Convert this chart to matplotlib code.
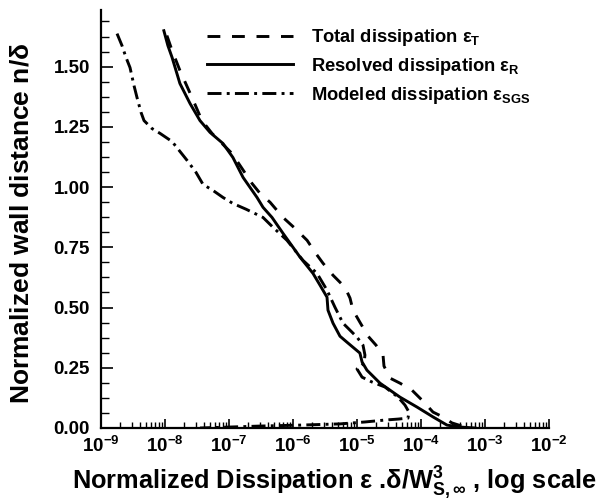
import math
import matplotlib
matplotlib.use("Agg")
import matplotlib.pyplot as plt
from matplotlib.ticker import FixedLocator, LogLocator, NullFormatter, FuncFormatter

plt.rcParams['font.family'] = ['Liberation Sans', 'DejaVu Sans']
plt.rcParams['font.weight'] = 'bold'
plt.rcParams['mathtext.fontset'] = 'custom'
plt.rcParams['mathtext.rm'] = 'Liberation Sans:bold'
plt.rcParams['mathtext.bf'] = 'Liberation Sans:bold'
plt.rcParams['mathtext.it'] = 'Liberation Sans'
plt.rcParams['mathtext.sf'] = 'Liberation Sans:bold'

# ---- data ----
resolved_eps = [9.6e-9, 1.11e-8, 1.29e-8, 1.71e-8, 2.46e-8, 3.52e-8, 5.05e-8, 8.05e-8,
                1.15e-7, 1.66e-7, 2.74e-7, 3.40e-7, 4.70e-7, 6.98e-7, 1.29e-6, 2.05e-6,
                2.64e-6, 3.40e-6, 3.52e-6, 4.22e-6, 5.42e-6, 6.98e-6, 1.11e-5, 1.20e-5,
                1.43e-5, 2.29e-5, 4.70e-5, 8.65e-5, 1.54e-4, 2.55e-4, 4.06e-4, 6.98e-4]
resolved_n = [1.649, 1.587, 1.538, 1.430, 1.347, 1.276, 1.227, 1.181,
              1.123, 1.040, 0.957, 0.916, 0.874, 0.808, 0.709, 0.642,
              0.593, 0.543, 0.489, 0.435, 0.381, 0.356, 0.311, 0.274,
              0.240, 0.186, 0.128, 0.087, 0.046, 0.012, 0.004, 0.0]

total_eps = [1.07e-8, 1.29e-8, 1.71e-8, 2.64e-8, 3.78e-8, 5.42e-8, 7.78e-8, 1.11e-7,
             1.60e-7, 2.29e-7, 3.05e-7, 4.38e-7, 6.98e-7, 1.07e-6, 1.66e-6, 2.21e-6,
             2.94e-6, 4.22e-6, 6.49e-6, 7.78e-6, 8.65e-6, 1.11e-5, 1.49e-5, 1.98e-5,
             2.55e-5, 2.64e-5, 3.28e-5, 4.70e-5, 7.23e-5, 1.07e-4, 1.54e-4, 2.05e-4,
             3.05e-4, 5.42e-4]
total_n = [1.629, 1.567, 1.484, 1.372, 1.276, 1.223, 1.181, 1.140,
           1.077, 1.015, 0.974, 0.937, 0.874, 0.829, 0.779, 0.729,
           0.684, 0.634, 0.584, 0.539, 0.489, 0.439, 0.381, 0.344,
           0.303, 0.257, 0.207, 0.186, 0.157, 0.112, 0.066, 0.050,
           0.021, 0.0]

modeled_eps = [1.78e-9, 2.13e-9, 2.46e-9, 2.84e-9, 3.28e-9, 3.65e-9, 4.22e-9, 4.70e-9,
               6.26e-9, 8.35e-9, 1.29e-8, 2.21e-8, 3.05e-8, 3.93e-8, 5.62e-8, 8.05e-8,
               1.15e-7, 1.85e-7, 3.40e-7, 4.87e-7, 8.05e-7, 1.43e-6, 2.37e-6, 3.40e-6,
               4.53e-6, 6.04e-6, 7.78e-6, 1.0e-5, 1.24e-5, 1.33e-5, 1.29e-5, 1.0e-5,
               1.20e-5, 1.71e-5, 2.74e-5, 4.38e-5, 5.62e-5, 6.49e-5, 6.26e-5, 4.38e-5,
               2.74e-5, 1.33e-5, 5.42e-6, 1.29e-6, 3.05e-7, 1.04e-7, 3.52e-8]
modeled_n = [1.637, 1.587, 1.538, 1.496, 1.421, 1.372, 1.310, 1.276,
             1.243, 1.223, 1.189, 1.111, 1.061, 1.011, 0.986, 0.957,
             0.932, 0.908, 0.874, 0.833, 0.779, 0.696, 0.642, 0.572,
             0.501, 0.435, 0.406, 0.377, 0.344, 0.303, 0.269, 0.245,
             0.211, 0.191, 0.170, 0.128, 0.095, 0.066, 0.041, 0.037,
             0.033, 0.025, 0.017, 0.012, 0.008, 0.004, 0.0]

y_ticks = [0.0, 0.25, 0.50, 0.75, 1.00, 1.25, 1.50]
x_decades = [1e-9, 1e-8, 1e-7, 1e-6, 1e-5, 1e-4, 1e-3, 1e-2]

# ---- figure ----
fig = plt.figure(figsize=(6.0, 5.04), dpi=100)
ax = fig.add_axes([101/600, 1 - 428/504, 448/600, 418/504])

lw = 2.1
ax.plot(total_eps, total_n, color='black', lw=lw, dashes=(4.4, 4.0),
        label=r'Total dissipation $\varepsilon_{\mathrm{T}}$')
ax.plot(resolved_eps, resolved_n, color='black', lw=lw, linestyle='-',
        label=r'Resolved dissipation $\varepsilon_{\mathrm{R}}$')
ax.plot(modeled_eps, modeled_n, color='black', lw=lw, dashes=(4.8, 1.8, 1.0, 1.8),
        label=r'Modeled dissipation $\varepsilon_{\mathrm{SGS}}$')

ax.set_xscale('log')
ax.set_xlim(1e-9, 1e-2)
ax.set_ylim(0, 1.735)

for s in ['top', 'right']:
    ax.spines[s].set_visible(False)
for s in ['left', 'bottom']:
    ax.spines[s].set_linewidth(1.6)

ax.yaxis.set_major_locator(FixedLocator(y_ticks))
ax.yaxis.set_minor_locator(FixedLocator([i * 0.0625 for i in range(28)]))
ax.yaxis.set_major_formatter(FuncFormatter(lambda v, p: f'{v:.2f}'))
ax.xaxis.set_major_locator(FixedLocator(x_decades))
ax.xaxis.set_minor_locator(LogLocator(base=10, subs=range(2, 10), numticks=20))
ax.xaxis.set_minor_formatter(NullFormatter())
ax.xaxis.set_major_formatter(FuncFormatter(
    lambda v, p: r'$\mathbf{10^{%d}}$' % round(math.log10(v))))

ax.tick_params(axis='y', which='major', direction='in', length=8.5, width=1.2,
               labelsize=13.5, pad=8)
ax.tick_params(axis='y', which='minor', direction='in', length=5.5, width=1.0)
ax.tick_params(axis='x', which='major', direction='in', length=6.5, width=1.2,
               labelsize=13.5, pad=6)
ax.tick_params(axis='x', which='minor', direction='in', length=4.3, width=1.0)
for lab in ax.get_yticklabels():
    lab.set_fontweight('bold')

leg = ax.legend(loc='upper left', bbox_to_anchor=(0.237, 0.959), frameon=False,
                fontsize=13.2, handlelength=4.7, handletextpad=0.95,
                labelspacing=0.42, borderaxespad=0, borderpad=0)
for t in leg.get_texts():
    t.set_fontweight('bold')

fig.text(22/600, 1 - 223/504, r'Normalized wall distance n/$\mathbf{\delta}$',
         rotation=90, ha='center', va='center', fontsize=19, fontweight='bold')
fig.text(334/600, 1 - 483/504,
         r'Normalized Dissipation $\mathbf{\varepsilon}$ .$\mathbf{\delta}$/W$^{\mathbf{3}}_{\mathbf{S,\infty}}$ , log scale',
         ha='center', va='center', fontsize=18.3, fontweight='bold')

fig.savefig('out.png', dpi=100)
